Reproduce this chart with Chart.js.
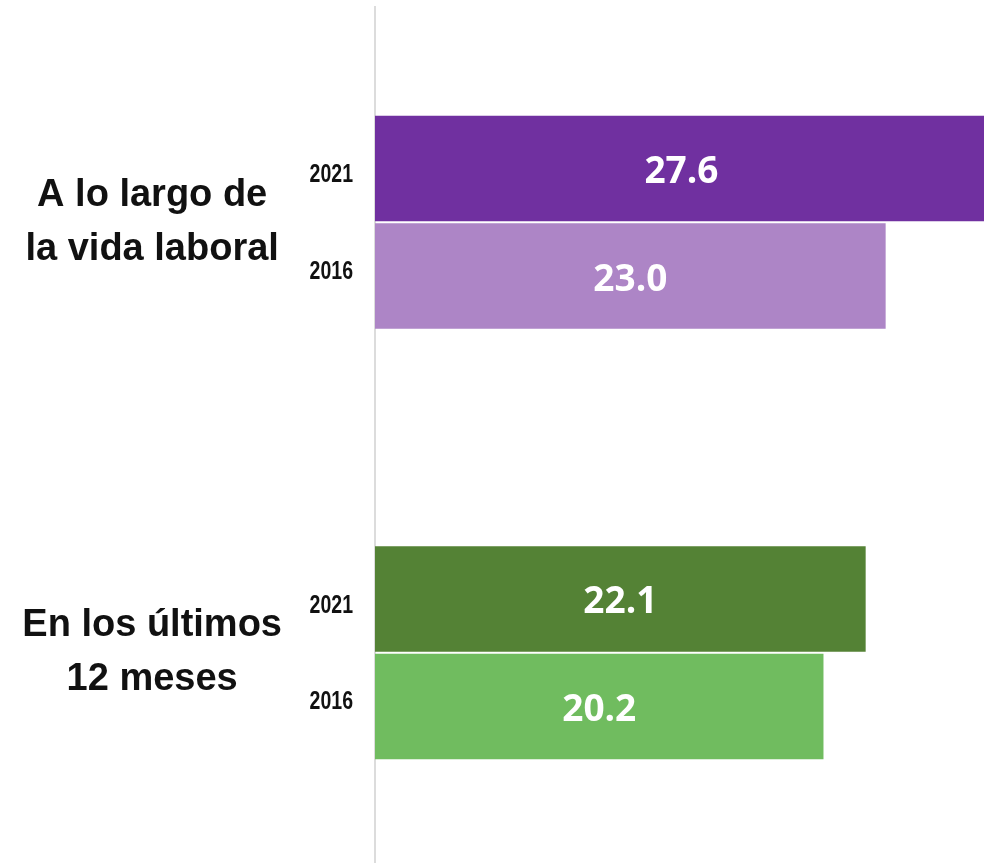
<!DOCTYPE html>
<html>
<head>
<meta charset="utf-8">
<script src="https://cdn.jsdelivr.net/npm/chart.js@4.4.0/dist/chart.umd.min.js"></script>
<style>
  html, body { margin: 0; padding: 0; background: #fff; overflow: hidden; }
  canvas { display: block; }
</style>
</head>
<body>
<canvas id="chart" width="984" height="868"></canvas>
<script>
const groups = [['A lo largo de', 'la vida laboral'], ['En los últimos', '12 meses']];
const years = ['2021', '2016'];
const values2021 = [27.6, 22.1];
const values2016 = [23.0, 20.2];
const colors2021 = ['#7030A0', '#548235'];
const colors2016 = ['#AD85C6', '#70BC5F'];

// year labels and white value labels inside the bars
const barLabels = {
    id: 'barLabels',
    afterDatasetsDraw(chart) {
        const ctx = chart.ctx;
        const left = chart.chartArea.left;
        chart.data.datasets.forEach((ds, i) => {
            const meta = chart.getDatasetMeta(i);
            meta.data.forEach((bar, j) => {
                const right = Math.min(bar.x, chart.chartArea.right + 4);
                ctx.save();
                ctx.fillStyle = '#ffffff';
                ctx.font = 'bold 37px "Open Sans"';
                ctx.textAlign = 'center';
                ctx.textBaseline = 'middle';
                ctx.fillText(ds.data[j].toFixed(1), (bar.base + right) / 2, bar.y + 4);
                ctx.restore();

                // narrow year label next to the bar
                const shift = i === 0 ? 7 : -4;
                ctx.save();
                ctx.translate(left - 22, bar.y + shift);
                ctx.scale(0.78, 1);
                ctx.fillStyle = '#111111';
                ctx.font = 'bold 25px "Liberation Sans", Arial';
                ctx.textAlign = 'right';
                ctx.textBaseline = 'middle';
                ctx.fillText(ds.label, 0, 0);
                ctx.restore();
            });
        });
    }
};

new Chart(document.getElementById('chart').getContext('2d'), {
    type: 'bar',
    data: {
        labels: groups,
        datasets: [
            {
                label: years[0],
                data: values2021,
                backgroundColor: colors2021,
                categoryPercentage: 0.5,
                barPercentage: 0.98
            },
            {
                label: years[1],
                data: values2016,
                backgroundColor: colors2016,
                categoryPercentage: 0.5,
                barPercentage: 0.98
            }
        ]
    },
    options: {
        indexAxis: 'y',
        responsive: false,
        maintainAspectRatio: false,
        animation: false,
        layout: {
            padding: { top: 7, right: 0, bottom: 0, left: 0 }
        },
        plugins: {
            legend: { display: false },
            tooltip: { enabled: false }
        },
        scales: {
            x: {
                display: false,
                min: 0,
                max: 27.43
            },
            y: {
                afterFit: function(axis) {
                    axis.width = 375;
                    axis.paddingTop = 0;
                    axis.paddingBottom = 0;
                },
                grid: { display: false, drawTicks: false },
                border: { display: true, color: '#dcdcdc', width: 2 },
                ticks: {
                    color: '#111111',
                    padding: 93,
                    crossAlign: 'center',
                    font: {
                        family: '"Liberation Sans", Arial',
                        size: 38,
                        weight: 'bold',
                        lineHeight: 1.42
                    }
                }
            }
        }
    },
    plugins: [barLabels]
});
</script>
</body>
</html>
